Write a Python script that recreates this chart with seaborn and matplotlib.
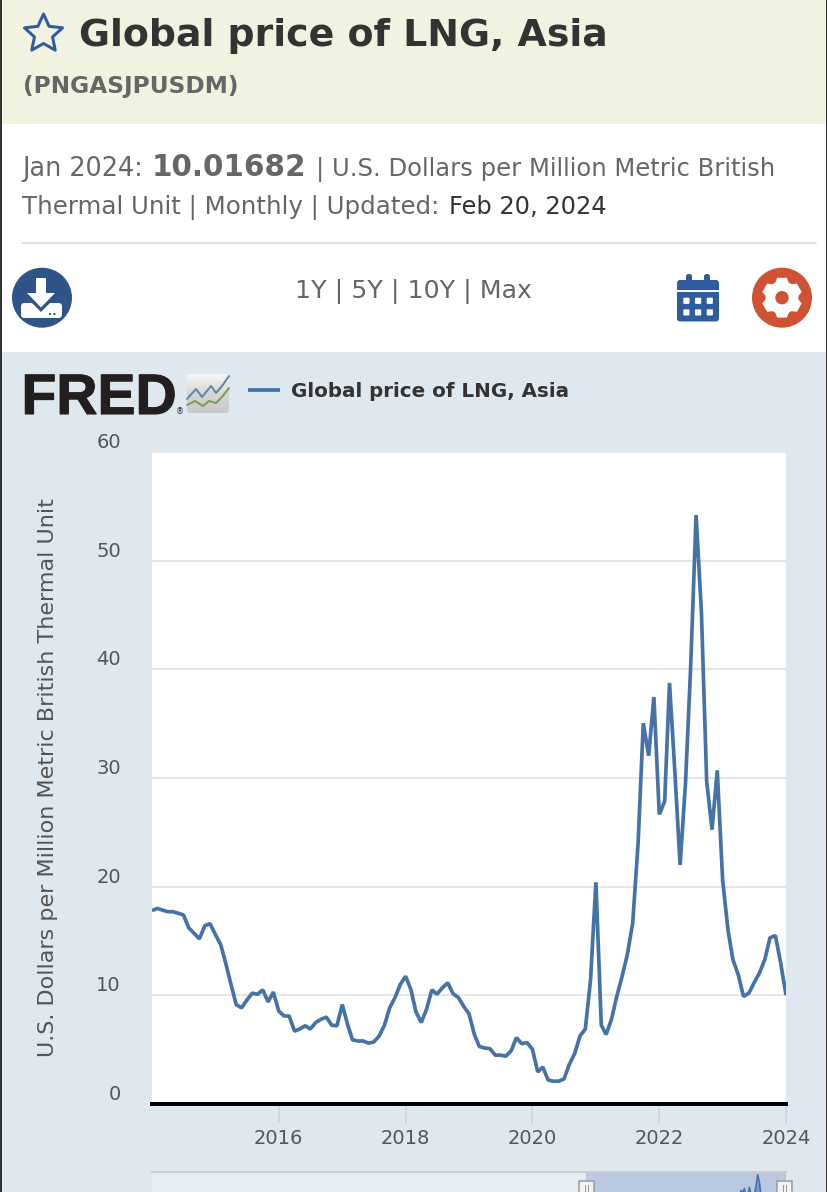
import numpy as np
import pandas as pd
import matplotlib
matplotlib.use("Agg")
import matplotlib.pyplot as plt
import matplotlib.patheffects as pe
from matplotlib.patches import Circle, FancyBboxPatch, Polygon, Rectangle
import seaborn as sns

# ---------- data ----------
START_MONTH = "2014-01-01"
PRICE = [
    17.8, 18.0, 17.85, 17.7, 17.7, 17.55, 17.4, 16.2, 15.7, 15.2, 16.4, 16.6,
    15.6, 14.65, 13.0, 11.0, 9.15, 8.85, 9.55, 10.2, 10.1, 10.5, 9.4, 10.3,
    8.55, 8.1, 8.1, 6.7, 6.9, 7.2, 6.9, 7.5, 7.8, 8.0, 7.25, 7.2,
    9.15, 7.3, 5.9, 5.8, 5.8, 5.6, 5.7, 6.25, 7.25, 8.85, 9.8, 11.0,
    11.75, 10.5, 8.5, 7.5, 8.7, 10.5, 10.1, 10.7, 11.15, 10.15, 9.8, 9.0,
    8.3, 6.4, 5.3, 5.15, 5.1, 4.5, 4.5, 4.4, 4.9, 6.1, 5.55, 5.65, 5.05,
    2.95, 3.4, 2.2, 2.1, 2.1, 2.3, 3.65, 4.65, 6.25, 6.9, 11.4, 20.4,
    7.25, 6.4, 7.8, 9.9, 11.75, 13.75, 16.65, 24.0, 35.05, 32.05, 37.45, 26.65,
    27.85, 38.75, 30.5, 22.0, 29.5, 40.3, 54.2, 45.2, 29.7, 25.25, 30.7, 20.6,
    16.0, 13.3, 11.9, 9.9, 10.2, 11.15, 12.05, 13.3, 15.3, 15.5, 13.0, 10.02,
]
Y_TICKS = [0, 10, 20, 30, 40, 50, 60]
X_TICK_YEARS = [2016, 2018, 2020, 2022, 2024]
SERIES_NAME = "Global price of LNG, Asia"
Y_LABEL = "U.S. Dollars per Million Metric British Thermal Unit"

dates = pd.date_range(START_MONTH, periods=len(PRICE), freq="MS")
df = pd.DataFrame({"date": dates, "price": PRICE})

# ---------- colours ----------
LINE = "#4572a7"
PANEL = "#dfe7ef"
HEADER = "#f1f2df"
NAVY = "#2f5488"
BLUE = "#2f5c9e"
ORANGE = "#cf5233"
GRAY = "#666666"
AXIS_TEXT = "#555555"
DARK = "#333333"

W, H = 828, 1192
sns.set_theme(style="white")
plt.rcParams["font.family"] = ["DejaVu Sans"]
fig = plt.figure(figsize=(W / 100, H / 100), dpi=100, facecolor="white")


def box(x0, y0, x1, y1):
    return [x0 / W, 1 - y1 / H, (x1 - x0) / W, (y1 - y0) / H]


def pt(px):
    return px * 0.72


# ---------- page furniture, in pixel coordinates ----------
bg = fig.add_axes([0, 0, 1, 1], zorder=0)
bg.set_xlim(0, W)
bg.set_ylim(H, 0)
bg.axis("off")
bg.add_patch(Rectangle((0, 0), W, 124, color=HEADER, lw=0))
bg.add_patch(Rectangle((0, 352), W, H - 352, color=PANEL, lw=0))
bg.add_patch(Rectangle((0, 0), 2, H, color="#333333", lw=0, zorder=5))
bg.add_patch(Rectangle((826, 0), 2, H, color="#333333", lw=0, zorder=5))
bg.plot([22, 816], [243, 243], color="#e2e2e2", lw=pt(2))


def txt(x, y, s, px, color=GRAY, weight="normal", **kw):
    return bg.text(x, y, s, fontsize=pt(px), color=color, fontweight=weight,
                   va="baseline", ha=kw.pop("ha", "left"), **kw)


# star
ang = np.pi / 2 + np.arange(10) * np.pi / 5
rad = np.where(np.arange(10) % 2 == 0, 20, 9.5)
bg.add_patch(Polygon(np.c_[43.5 + rad * np.cos(ang), 34 - rad * np.sin(ang)], closed=True,
                     fc="none", ec=BLUE, lw=pt(3), joinstyle="round"))

txt(79, 45.5, "Global price of LNG, Asia", 37.9, color=DARK, weight="bold")
txt(23, 93.5, "(PNGASJPUSDM)", 23.2, color=GRAY, weight="bold")

txt(22, 176, "Jan 2024:", 25.5)
txt(152, 176, "10.01682", 29.5, weight="bold")
txt(316, 176, "| U.S. Dollars per Million Metric British", 24.25)
txt(22, 214, "Thermal Unit | Monthly | Updated:", 24.5)
txt(449, 214, "Feb 20, 2024", 24.1, color=DARK)
txt(295, 298, "1Y | 5Y | 10Y | Max", 25.2)

# download button
bg.add_patch(Circle((42, 297.7), 30, color=NAVY, lw=0))
bg.add_patch(FancyBboxPatch((21, 303), 41, 15, boxstyle="round,pad=0,rounding_size=3.5", fc="white", lw=0, zorder=2))
bg.add_patch(Polygon([(24, 295), (58, 295), (41, 312)], closed=True, fc=NAVY, lw=0, zorder=3))
bg.add_patch(Polygon([(36, 278), (46, 278), (46, 293), (55, 293), (41, 307.5), (27, 293), (36, 293)],
                     closed=True, fc="white", lw=0, zorder=4))
bg.add_patch(Circle((50, 314), 1.1, color=NAVY, lw=0, zorder=4))
bg.add_patch(Circle((54.5, 314), 1.1, color=NAVY, lw=0, zorder=4))

# calendar button
bg.add_patch(FancyBboxPatch((677, 280), 42, 41.5, boxstyle="round,pad=0,rounding_size=3", fc=BLUE, lw=0))
for cx in (689, 707):
    bg.add_patch(FancyBboxPatch((cx - 3, 274), 6, 10, boxstyle="round,pad=0,rounding_size=2.5", fc=BLUE, lw=0))
bg.add_patch(Rectangle((677, 289.5), 42, 2.4, color="white", lw=0, zorder=3))
for cx in (683.3, 695, 706.7):
    for cy in (297.7, 309.3):
        bg.add_patch(FancyBboxPatch((cx, cy), 6.2, 6.2, boxstyle="round,pad=0,rounding_size=1", fc="white", lw=0, zorder=3))

# settings button
bg.add_patch(Circle((782, 297.7), 30, color=ORANGE, lw=0))
gear_a, gear_r = [], []
for k in range(6):
    c = np.pi / 2 + k * np.pi / 3
    for da, r in ((-0.42, 16.5), (-0.24, 20.5), (0.24, 20.5), (0.42, 16.5)):
        gear_a.append(c + da)
        gear_r.append(r)
gear_a, gear_r = np.array(gear_a), np.array(gear_r)
bg.add_patch(Polygon(np.c_[782 + gear_r * np.cos(gear_a), 297.7 - gear_r * np.sin(gear_a)],
                     closed=True, fc="white", lw=0, zorder=3))
bg.add_patch(Circle((782, 297.7), 6.7, color=ORANGE, lw=0, zorder=4))

# FRED logo
bg.text(21.5, 414, "FRED", fontsize=pt(57), family="Liberation Sans", fontweight="bold", color="#231f20",
        va="baseline", ha="left", path_effects=[pe.withStroke(linewidth=0.8, foreground="#231f20")])
bg.text(180, 414, "®", fontsize=pt(8), color="#231f20", va="baseline", ha="center")
grad = np.linspace(0, 1, 40)[:, None]
thumb = bg.imshow(grad, extent=(187, 229, 413, 374), cmap=matplotlib.colors.LinearSegmentedColormap.from_list(
    "g", ["#f6f6f6", "#d6d6d6", "#c9c9c9"]), aspect="auto", zorder=1)
thumb.set_clip_path(FancyBboxPatch((187, 374), 42, 39, boxstyle="round,pad=0,rounding_size=3", transform=bg.transData))
bg.set_xlim(0, W)
bg.set_ylim(H, 0)
bg.plot([187, 196, 202, 211, 216, 222, 229], [399, 389, 397, 386, 393, 386, 376], color="#5d8aa8", lw=pt(2), zorder=2)
bg.plot([187, 195, 203, 209, 216, 222, 229], [405, 401, 406, 401, 403, 397, 388], color="#7a9e4e", lw=pt(2), zorder=2)

# ---------- main chart ----------
ax = fig.add_axes(box(152, 452, 786, 1104), zorder=2, facecolor="white")
sns.lineplot(data=df, x="date", y="price", ax=ax, color=LINE, lw=pt(3.7), label=SERIES_NAME,
             solid_joinstyle="bevel", solid_capstyle="butt", clip_on=True, zorder=3)
ax.set_xlim(dates[0], dates[-1])
ax.set_ylim(Y_TICKS[0], Y_TICKS[-1])
ax.set_xlabel("")
ax.set_ylabel(Y_LABEL, fontsize=pt(22.3), color=AXIS_TEXT, labelpad=0)
ax.yaxis.set_label_coords((58 - 152) / (786 - 152), (1104 - 777.5) / (1104 - 452))

ax.set_yticks(Y_TICKS)
ax.set_yticklabels([str(v) for v in Y_TICKS], va="bottom")
ax.tick_params(axis="y", length=0, pad=pt(31), labelsize=pt(19.5), labelcolor=AXIS_TEXT)
ax.grid(axis="y", color="#e6e6e6", lw=pt(2))
ax.grid(axis="x", visible=False)
ax.set_axisbelow(True)

x_ticks = pd.to_datetime([f"{y}-01-01" for y in X_TICK_YEARS])
ax.set_xticks(x_ticks)
ax.set_xticklabels([str(y) for y in X_TICK_YEARS])
ax.tick_params(axis="x", length=pt(19), width=pt(2), color="#ccd6eb", pad=pt(6),
               labelsize=pt(19.5), labelcolor=AXIS_TEXT, bottom=True)
for s in ("top", "left", "right"):
    ax.spines[s].set_visible(False)
ax.spines["bottom"].set_color("black")
ax.spines["bottom"].set_linewidth(pt(4))
ax.spines["bottom"].set_zorder(4)

leg_handles, leg_labels = ax.get_legend_handles_labels()
leg = ax.legend(leg_handles, leg_labels, loc="center left", frameon=False,
                bbox_to_anchor=(248 / W, 1 - 391.5 / H), bbox_transform=fig.transFigure,
                borderaxespad=0, borderpad=0, handlelength=1.62, handletextpad=0.56,
                prop={"size": pt(19.85), "weight": "bold"}, labelcolor=DARK)

# ---------- navigator strip ----------
nav = fig.add_axes(box(152, 1172, 786, 1192), zorder=2, facecolor="#e6ecf3")
nav.axvspan(dates[0], dates[-1], color="#b9c9e2", lw=0, zorder=1)
sns.lineplot(data=df, x="date", y="price", ax=nav, color=LINE, lw=pt(1.6), legend=False, zorder=3)
nav.fill_between(dates, PRICE, 0, color=LINE, alpha=0.55, lw=0, zorder=2)
nav.set_xlim(pd.Timestamp("1992-04-01"), dates[-1])
nav.set_ylim(33, 57.5)
nav.set_xticks([])
nav.set_yticks([])
nav.set_xlabel("")
nav.set_ylabel("")
for s in ("left", "right", "bottom"):
    nav.spines[s].set_visible(False)
nav.spines["top"].set_color("#cccccc")
nav.spines["top"].set_linewidth(pt(2))

for cx in (587, 785):
    fig.add_artist(Rectangle((cx - 7.5, 1181), 15, 14, fc="#f2f2f2", ec="#999999", lw=pt(1.5), zorder=6,
                             transform=bg.transData, clip_on=False))
    for dx in (-1.5, 1.5):
        fig.add_artist(Rectangle((cx + dx - 0.5, 1185), 1, 7, fc="#999999", lw=0, zorder=7,
                                 transform=bg.transData))

fig.savefig("out.png", dpi=100, facecolor=fig.get_facecolor())
